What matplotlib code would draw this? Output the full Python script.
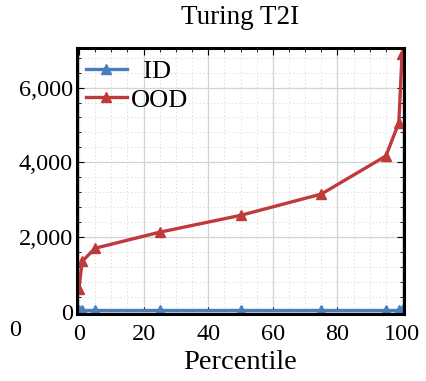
import matplotlib
matplotlib.use("Agg")
import matplotlib.pyplot as plt
from matplotlib.ticker import MultipleLocator, FuncFormatter

plt.rcParams['font.family'] = ['Liberation Serif', 'DejaVu Serif']

percentiles = [0, 1, 5, 25, 50, 75, 95, 99, 100]
id_values = [50, 50, 50, 50, 50, 50, 50, 50, 50]
ood_values = [620, 1350, 1700, 2130, 2580, 3150, 4170, 5060, 6890]

blue = '#4a7ebb'
red = '#c03a3b'

fig = plt.figure(figsize=(4.26, 3.81), dpi=100)
ax = fig.add_axes([77/426, 1 - 314/381, (404-77)/426, (314-48)/381])

ax.plot(percentiles, id_values, color=blue, lw=2.4, marker='^', ms=7.5, label='  ID')
ax.plot(percentiles, ood_values, color=red, lw=2.4, marker='^', ms=7.5, label='OOD')

ax.set_xlim(-0.6, 100.6)
ax.set_ylim(-60, 7060)
ax.xaxis.set_major_locator(MultipleLocator(20))
ax.xaxis.set_minor_locator(MultipleLocator(5))
ax.yaxis.set_major_locator(MultipleLocator(2000))
ax.yaxis.set_minor_locator(MultipleLocator(400))
ax.yaxis.set_major_formatter(FuncFormatter(lambda v, p: f'{int(v):,}'))

ax.grid(which='major', color='#d4d4d4', lw=0.9)
ax.grid(which='minor', color='#d8d8d8', lw=0.7, ls=(0, (1.2, 2.5)))
ax.set_axisbelow(True)

ax.tick_params(which='both', direction='in', top=True, right=True, labelsize=17.5)
ax.tick_params(axis='x', which='major', pad=7.5)
ax.tick_params(axis='y', which='major', pad=3)
ax.tick_params(which='major', length=5, width=0.8)
ax.tick_params(which='minor', length=3, width=0.6)
for s in ax.spines.values():
    s.set_linewidth(2.2)

ax.set_title('Turing T2I', fontsize=19.5, pad=17)
ax.set_xlabel('Percentile', fontsize=20.5, labelpad=3.5)

fig.text(15/426, 1 - 331/381, '0', fontsize=17.5, ha='center', va='center')

ax.legend(loc='upper left', bbox_to_anchor=(-0.01, 1.0), frameon=False,
          fontsize=19, handlelength=1.55, handletextpad=0.15,
          borderaxespad=0.1, labelspacing=0.18, borderpad=0.35)

fig.savefig('out.png', dpi=100)
